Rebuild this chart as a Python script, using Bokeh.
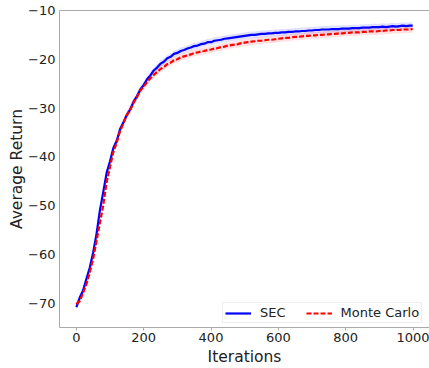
from bokeh.plotting import figure
from bokeh.models import (Range1d, FixedTicker, Legend, LegendItem, LinearAxis)
from bokeh.embed import file_html
from bokeh.resources import INLINE

# ---- data ----
iterations = list(range(0, 1000, 10)) + [999]

sec_return = [
    -70.8, -68.9, -67.4, -65.0, -62.7, -59.6, -55.8, -51.0, -47.2, -43.3,
    -40.9, -38.2, -36.7, -34.3, -32.9, -31.4, -30.3, -28.7, -27.6, -26.2,
    -25.3, -24.1, -23.3, -22.3, -21.7, -20.9, -20.5, -19.8, -19.5, -18.9,
    -18.7, -18.3, -18.1, -17.8, -17.6, -17.3, -17.2, -16.9, -16.8, -16.5,
    -16.5, -16.2, -16.1, -16.0, -15.8, -15.7, -15.6, -15.5, -15.4, -15.3,
    -15.2, -15.1, -15.0, -15.0, -14.9, -14.8, -14.8, -14.7, -14.7, -14.6,
    -14.6, -14.5, -14.5, -14.4, -14.4, -14.3, -14.3, -14.2, -14.2, -14.1,
    -14.1, -14.0, -14.0, -13.9, -13.9, -13.9, -13.8, -13.8, -13.8, -13.7,
    -13.7, -13.7, -13.6, -13.6, -13.6, -13.5, -13.5, -13.5, -13.4, -13.4,
    -13.4, -13.3, -13.4, -13.3, -13.2, -13.3, -13.2, -13.1, -13.2, -13.1,
    -13.1,
]

mc_return = [
    -70.2, -69.6, -67.9, -66.1, -63.7, -60.9, -57.3, -53.6, -49.9, -45.2,
    -42.1, -39.0, -37.1, -34.7, -33.1, -31.4, -30.4, -28.9, -27.8, -26.4,
    -25.6, -24.7, -23.9, -23.2, -22.6, -22.0, -21.6, -21.0, -20.7, -20.2,
    -20.0, -19.6, -19.4, -19.2, -19.0, -18.7, -18.6, -18.4, -18.3, -18.1,
    -18.0, -17.8, -17.7, -17.5, -17.4, -17.2, -17.1, -17.0, -16.9, -16.7,
    -16.6, -16.5, -16.4, -16.3, -16.2, -16.2, -16.1, -16.0, -16.0, -15.9,
    -15.8, -15.7, -15.6, -15.6, -15.5, -15.4, -15.4, -15.3, -15.2, -15.2,
    -15.1, -15.1, -15.0, -15.0, -14.9, -14.9, -14.8, -14.8, -14.7, -14.7,
    -14.6, -14.6, -14.5, -14.5, -14.5, -14.4, -14.4, -14.3, -14.3, -14.3,
    -14.2, -14.2, -14.1, -14.1, -14.0, -14.0, -14.0, -13.9, -13.9, -13.9,
    -13.8,
]

x_ticks = [0, 200, 400, 600, 800, 1000]
y_ticks = [-70, -60, -50, -40, -30, -20, -10]
series_names = ["SEC", "Monte Carlo"]

# ---- figure ----
FONT = "DejaVu Sans"
SPINE = "#aaaaaa"

p = figure(width=429, height=368, output_backend="svg", toolbar_location=None,
           x_range=Range1d(-50, 1049), y_range=Range1d(-75, -10),
           min_border_left=59, min_border_right=0, min_border_top=10,
           min_border_bottom=32)
p.outline_line_color = None
p.grid.visible = False
p.background_fill_color = "white"
p.border_fill_color = "white"

band = 0.7
p.varea(x=iterations, y1=[v - band for v in sec_return], y2=[v + band for v in sec_return],
        fill_color="blue", fill_alpha=0.12)
p.varea(x=iterations, y1=[v - band for v in mc_return], y2=[v + band for v in mc_return],
        fill_color="red", fill_alpha=0.12)

r_sec = p.line(iterations, sec_return, line_color="blue", line_width=2.2)
r_mc = p.line(iterations, mc_return, line_color="red", line_width=2.2, line_dash="5 2")

# axes
xa = p.xaxis[0]
xa.ticker = FixedTicker(ticks=x_ticks)
xa.axis_label = "Iterations"
ya = p.yaxis[0]
ya.ticker = FixedTicker(ticks=y_ticks)
ya.axis_label = "Average Return"
ya.major_label_overrides = {t: ("\u2212" + str(abs(t)) if t < 0 else str(t)) for t in y_ticks}

for ax in (xa, ya):
    ax.axis_line_color = SPINE
    ax.axis_line_width = 1
    ax.major_tick_line_color = SPINE
    ax.minor_tick_line_color = None
    ax.major_label_text_font = FONT
    ax.major_label_text_font_size = "13px"
    ax.major_label_text_color = "#222222"
    ax.axis_label_text_font = FONT
    ax.axis_label_text_font_size = "15.5px"
    ax.axis_label_text_font_style = "normal"
    ax.axis_label_text_color = "#222222"

xa.major_tick_out = 3
xa.major_tick_in = 0
xa.major_label_standoff = 2
xa.axis_label_standoff = 3
ya.major_tick_out = 0
ya.major_tick_in = 0
ya.major_label_standoff = 4
ya.axis_label_standoff = -1

top = LinearAxis(ticker=FixedTicker(ticks=[]), axis_line_color=SPINE,
                 major_tick_line_color=None, minor_tick_line_color=None,
                 major_label_text_font_size="0px")
p.add_layout(top, "above")

legend = Legend(items=[LegendItem(label=series_names[0], renderers=[r_sec]),
                       LegendItem(label=series_names[1], renderers=[r_mc])],
                location=(163, 4), orientation="horizontal")
legend.label_text_font = FONT
legend.label_text_font_size = "13px"
legend.label_text_line_height = 1.0
legend.label_text_color = "#222222"
legend.border_line_color = "#dddddd"
legend.border_line_width = 1
legend.background_fill_alpha = 0.85
legend.padding = 2
legend.spacing = 20
legend.label_standoff = 9
legend.glyph_width = 26
legend.glyph_height = 14
legend.label_height = 14
legend.margin = 0
p.add_layout(legend, "center")

open("out.html", "w").write(file_html(p, INLINE))
